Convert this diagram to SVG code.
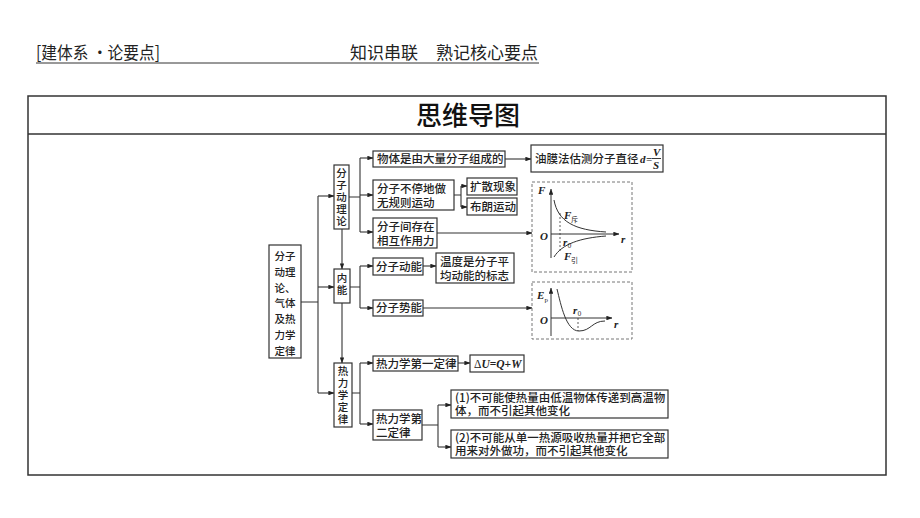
<svg xmlns="http://www.w3.org/2000/svg" width="920" height="518" viewBox="0 0 920 518">
<defs>
<marker id="ar" viewBox="0 0 8 6" refX="7.5" refY="3" markerWidth="6" markerHeight="4.5" markerUnits="userSpaceOnUse" orient="auto">
<path d="M0,0 L8,3 L0,6 Z" fill="#222"/>
</marker>
<style>
.t{font-family:"Noto Sans CJK SC","Noto Sans",sans-serif;font-size:11.5px;fill:#222;font-weight:500}
.r{font-family:"Noto Sans CJK SC","Noto Sans",sans-serif;font-size:10.5px;fill:#222;font-weight:500}
.v{font-family:"Noto Sans CJK SC","Noto Sans",sans-serif;font-size:10.5px;fill:#222;font-weight:500;writing-mode:tb;letter-spacing:1.5px}
.b{fill:#fff;stroke:#333;stroke-width:1.2}
.c{fill:none;stroke:#333;stroke-width:1.1}
.a{fill:none;stroke:#333;stroke-width:1.1;marker-end:url(#ar)}
.d{fill:none;stroke:#777;stroke-width:1;stroke-dasharray:3,2}
.g{fill:none;stroke:#333;stroke-width:1}
.m{font-family:"Liberation Serif",serif;font-style:italic;font-weight:bold;font-size:11px;fill:#222}
.s{font-family:"Noto Sans CJK SC",sans-serif;font-size:7px;fill:#222}
.h{font-family:"Noto Sans CJK SC","Noto Sans",sans-serif;font-size:17px;fill:#222}
</style>
</defs>
<rect width="920" height="518" fill="#fff"/>
<g id="header">
<text class="h" x="36" y="59" textLength="124" lengthAdjust="spacingAndGlyphs">[建体系 ·论要点]</text>
<text class="h" x="350" y="59">知识串联</text>
<text class="h" x="436" y="59">熟记核心要点</text>
<line x1="36" y1="63" x2="539" y2="63" stroke="#333" stroke-width="1"/>
</g>
<g id="frame">
<rect x="28" y="96" width="858" height="379" fill="none" stroke="#333" stroke-width="1.5"/>
<line x1="28" y1="134" x2="886" y2="134" stroke="#333" stroke-width="1.5"/>
<text x="468" y="125" text-anchor="middle" font-family="Noto Sans CJK SC,sans-serif" font-size="26" font-weight="500" fill="#111">思维导图</text>
</g>
<g id="connectors">
<path class="c" d="M301,302 H318 M318,196 V393"/>
<path class="a" d="M318,196 H334"/>
<path class="a" d="M318,287 H334"/>
<path class="a" d="M318,393 H334"/>
<path class="c" d="M349,197 H360 M360,158 V232"/>
<path class="a" d="M360,158 H373"/>
<path class="a" d="M360,195 H373"/>
<path class="a" d="M360,232 H373"/>
<path class="a" d="M342,229 V269"/>
<path class="c" d="M350,287 H360 M360,266 V308"/>
<path class="a" d="M360,266 H373"/>
<path class="a" d="M360,308 H373"/>
<path class="a" d="M342,303 V363"/>
<path class="c" d="M352,393 H360 M360,363 V424"/>
<path class="a" d="M360,363 H373"/>
<path class="a" d="M360,424 H373"/>
<path class="a" d="M505,159 H531"/>
<path class="c" d="M454,195 H461 M461,186 V207"/>
<path class="a" d="M461,186 H467"/>
<path class="a" d="M461,207 H467"/>
<path class="a" d="M437,233 H532"/>
<path class="a" d="M423,266 H436"/>
<path class="a" d="M423,308 H532"/>
<path class="a" d="M458,363 H470"/>
<path class="c" d="M422,425 H438 M438,405 V447"/>
<path class="a" d="M438,405 H451"/>
<path class="a" d="M438,447 H451"/>
</g>
<g id="root">
<rect class="b" x="269" y="245" width="32" height="113"/>
<text class="r" text-anchor="middle"><tspan x="285" y="260">分子</tspan><tspan x="285" y="276">动理</tspan><tspan x="285" y="292">论、</tspan><tspan x="285" y="307">气体</tspan><tspan x="285" y="323">及热</tspan><tspan x="285" y="339">力学</tspan><tspan x="285" y="355">定律</tspan></text>
</g>
<g id="n-fenzi">
<rect class="b" x="334" y="165" width="15" height="64"/>
<text class="v" x="341.5" y="168">分子动理论</text>
</g>
<g id="n-neineng">
<rect class="b" x="334" y="269" width="16" height="34"/>
<text class="v" x="342" y="273" letter-spacing="5px">内能</text>
</g>
<g id="n-relixue">
<rect class="b" x="334" y="363" width="18" height="64"/>
<text class="v" x="343" y="366">热力学定律</text>
</g>
<g id="n-wuti">
<rect class="b" x="373" y="151" width="132" height="16"/>
<text class="t" x="377" y="163">物体是由大量分子组成的</text>
</g>
<g id="n-youmo">
<rect class="b" x="531" y="145" width="132" height="27"/>
<text class="t" x="535" y="163">油膜法估测分子直径</text>
<text class="m" x="640" y="163">d</text>
<text class="m" x="646" y="163" font-style="normal">=</text>
<text class="m" x="653" y="156" font-size="10">V</text>
<line x1="652" y1="158.5" x2="661" y2="158.5" stroke="#222" stroke-width="0.9"/>
<text class="m" x="653" y="169" font-size="10">S</text>
</g>
<g id="n-butingdi">
<rect class="b" x="373" y="180" width="81" height="30"/>
<text class="t"><tspan x="377" y="193">分子不停地做</tspan><tspan x="377" y="207">无规则运动</tspan></text>
</g>
<g id="n-kuosan">
<rect class="b" x="467" y="178" width="50" height="17"/>
<text class="t" x="470" y="191">扩散现象</text>
</g>
<g id="n-bulang">
<rect class="b" x="467" y="198" width="50" height="17"/>
<text class="t" x="470" y="211">布朗运动</text>
</g>
<g id="n-xianghu">
<rect class="b" x="373" y="218" width="64" height="30"/>
<text class="t"><tspan x="377" y="231">分子间存在</tspan><tspan x="377" y="245">相互作用力</tspan></text>
</g>
<g id="graph-force">
<rect class="d" x="532" y="182" width="100" height="90"/>
<path class="g" d="M551,258 V189" marker-end="url(#ar)"/>
<path class="g" d="M551,234 H619" marker-end="url(#ar)"/>
<path class="g" d="M554,200 C558,222 575,230 606,232"/>
<path class="g" d="M554,257 C562,244 580,238 606,236"/>
<line x1="560" y1="213" x2="560" y2="251" stroke="#333" stroke-width="0.8" stroke-dasharray="2,2"/>
<text class="m" x="538" y="194">F</text>
<text class="m" x="540" y="240">O</text>
<text class="m" x="621" y="243">r</text>
<text class="m" x="564" y="219">F</text><text class="s" x="571" y="222">斥</text>
<text class="m" x="564" y="260">F</text><text class="s" x="571" y="263">引</text>
<text class="m" x="563" y="246" font-size="10">r</text><text class="s" x="567.5" y="248" font-family="Liberation Serif,serif">0</text>
</g>
<g id="n-dongneng">
<rect class="b" x="373" y="258" width="50" height="17"/>
<text class="t" x="376" y="271">分子动能</text>
</g>
<g id="n-wendu">
<rect class="b" x="436" y="253" width="78" height="30"/>
<text class="t"><tspan x="440" y="266">温度是分子平</tspan><tspan x="440" y="280">均动能的标志</tspan></text>
</g>
<g id="n-shineng">
<rect class="b" x="373" y="300" width="50" height="16"/>
<text class="t" x="376" y="312">分子势能</text>
</g>
<g id="graph-ep">
<rect class="d" x="532" y="282" width="100" height="57"/>
<path class="g" d="M551,336 V288" marker-end="url(#ar)"/>
<path class="g" d="M551,318 H612" marker-end="url(#ar)"/>
<path class="g" d="M557,289 C561,305 566,331 579,331 C591,331 592,321 605,321"/>
<line x1="578" y1="318" x2="578" y2="331" stroke="#333" stroke-width="0.8" stroke-dasharray="2,2"/>
<text class="m" x="537" y="299">E</text><text x="544.5" y="302" font-family="Liberation Serif,serif" font-size="7" fill="#222">p</text>
<text class="m" x="540" y="324">O</text>
<text class="m" x="614" y="328">r</text>
<text class="m" x="573" y="314" font-size="10">r</text><text class="s" x="577.5" y="316" font-family="Liberation Serif,serif">0</text>
</g>
<g id="n-diyi">
<rect class="b" x="373" y="356" width="85" height="15"/>
<text class="t" x="376" y="368">热力学第一定律</text>
</g>
<g id="n-du">
<rect class="b" x="470" y="355" width="54" height="17"/>
<text x="474" y="368" font-family="Liberation Serif,serif" font-size="11.5" fill="#222">Δ<tspan font-style="italic" font-weight="bold">U</tspan><tspan font-weight="bold">=</tspan><tspan font-style="italic" font-weight="bold">Q</tspan><tspan font-weight="bold">+</tspan><tspan font-style="italic" font-weight="bold">W</tspan></text>
</g>
<g id="n-dier">
<rect class="b" x="373" y="410" width="49" height="30"/>
<text class="t"><tspan x="376" y="423">热力学第</tspan><tspan x="376" y="437">二定律</tspan></text>
</g>
<g id="n-s1">
<rect class="b" x="451" y="390" width="217" height="28"/>
<text class="t"><tspan x="455" y="402">(1)不可能使热量由低温物体传递到高温物</tspan><tspan x="455" y="415">体，而不引起其他变化</tspan></text>
</g>
<g id="n-s2">
<rect class="b" x="451" y="430" width="217" height="28"/>
<text class="t"><tspan x="455" y="442">(2)不可能从单一热源吸收热量并把它全部</tspan><tspan x="455" y="455">用来对外做功，而不引起其他变化</tspan></text>
</g>
</svg>
